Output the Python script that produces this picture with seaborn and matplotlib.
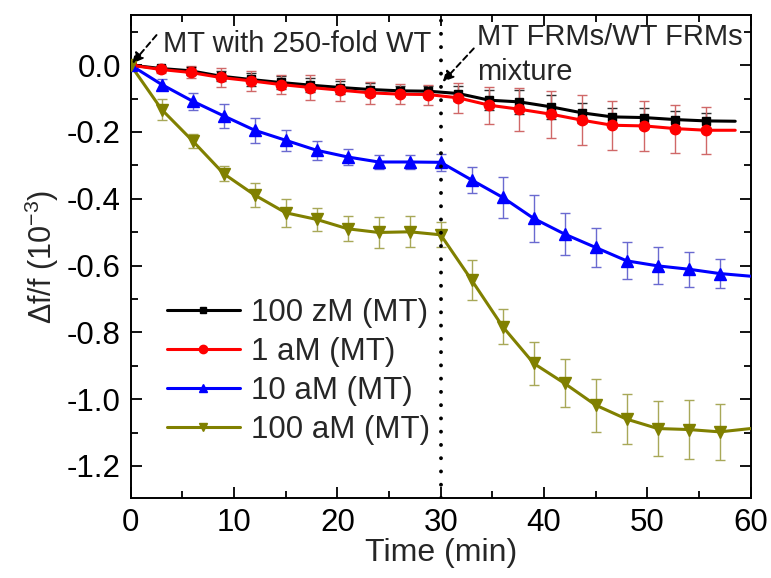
import matplotlib
matplotlib.use("Agg")
import matplotlib.pyplot as plt
import seaborn as sns
import pandas as pd
from matplotlib.lines import Line2D
from matplotlib.ticker import MultipleLocator

# ---------------- data ----------------
t_low = [0, 2.9, 5.8, 8.7, 11.6, 14.5, 17.4, 20.3, 23.2, 26.1, 28.8,
         31.7, 34.7, 37.6, 40.7, 43.7, 46.6, 49.7, 52.7, 55.7, 58.5]
zM100_vals = [0, -0.010, -0.017, -0.033, -0.043, -0.052, -0.060, -0.067, -0.073, -0.077, -0.078,
              -0.085, -0.105, -0.110, -0.125, -0.143, -0.155, -0.157, -0.163, -0.167, -0.168]
zM100_err = [0, 0.008, 0.012, 0.015, 0.018, 0.018, 0.020, 0.018, 0.018, 0.016, 0.016,
             0.022, 0.030, 0.035, 0.035, 0.030, 0.028, 0.030, 0.025, 0.025, 0]
aM1_vals = [0, -0.013, -0.022, -0.037, -0.047, -0.058, -0.067, -0.075, -0.083, -0.087, -0.088,
            -0.098, -0.120, -0.132, -0.147, -0.165, -0.180, -0.182, -0.190, -0.195, -0.195]
aM1_err = [0, 0.011, 0.018, 0.027, 0.030, 0.028, 0.036, 0.033, 0.032, 0.030, 0.030,
           0.045, 0.055, 0.065, 0.070, 0.075, 0.074, 0.074, 0.072, 0.070, 0]

t_high = [0, 3, 6, 9, 12, 15, 18, 21, 24, 27, 30,
          33, 36, 39, 42, 45, 48, 51, 54, 57, 60]
aM10_vals = [0, -0.058, -0.108, -0.152, -0.195, -0.225, -0.255, -0.275, -0.290, -0.290, -0.291,
             -0.344, -0.396, -0.459, -0.506, -0.546, -0.586, -0.601, -0.611, -0.624, -0.632]
aM10_err = [0, 0.015, 0.025, 0.037, 0.038, 0.032, 0.029, 0.025, 0.020, 0.022, 0.025,
            0.040, 0.062, 0.070, 0.063, 0.059, 0.055, 0.055, 0.053, 0.044, 0]
aM100_vals = [0, -0.133, -0.227, -0.325, -0.389, -0.442, -0.462, -0.490, -0.501, -0.499, -0.508,
              -0.644, -0.783, -0.893, -0.953, -1.018, -1.060, -1.088, -1.091, -1.098, -1.088]
aM100_err = [0, 0.032, 0.020, 0.022, 0.035, 0.042, 0.035, 0.038, 0.047, 0.047, 0.037,
             0.060, 0.052, 0.065, 0.072, 0.079, 0.075, 0.081, 0.088, 0.083, 0]

labels = ["100 zM (MT)", "1 aM (MT)", "10 aM (MT)", "100 aM (MT)"]
x_ticks = [0, 10, 20, 30, 40, 50, 60]
y_ticks = [0.0, -0.2, -0.4, -0.6, -0.8, -1.0, -1.2]

# ---------------- style ----------------
sns.set_theme(style="ticks")
plt.rcParams["font.family"] = ["Liberation Sans", "DejaVu Sans"]
plt.rcParams["mathtext.fontset"] = "custom"
plt.rcParams["mathtext.rm"] = "Liberation Sans"
plt.rcParams["mathtext.it"] = "Liberation Sans:italic"
plt.rcParams["mathtext.default"] = "regular"

fig = plt.figure(figsize=(7.71, 5.78), dpi=100)
ax = fig.add_axes([0.1695, 0.1384, 0.8042, 0.8356])

series = [
    (t_low, zM100_vals, zM100_err, labels[0], "black", "s", 6, "#303030"),
    (t_low, aM1_vals, aM1_err, labels[1], "#ff0000", "o", 7.5, "#d06868"),
    (t_high, aM10_vals, aM10_err, labels[2], "#0000ff", "^", 8, "#6a6ad0"),
    (t_high, aM100_vals, aM100_err, labels[3], "#808000", "v", 8, "#a8a858"),
]

handles = []
for t, v, e, lab, col, mk, ms, ecol in series:
    df = pd.DataFrame({"Time": t, "val": v})
    n = len(t)
    ax.errorbar(t[:n - 1], v[:n - 1], yerr=e[:n - 1], fmt="none", ecolor=ecol,
                elinewidth=1.0, capsize=3.5, capthick=1.0, zorder=2)
    sns.lineplot(data=df, x="Time", y="val", ax=ax, color=col, linewidth=2.2,
                 errorbar=None, sort=True, zorder=3, legend=False)
    ax.plot(t[:n - 1], v[:n - 1], linestyle="none", marker=mk, markersize=ms,
            color=col, markeredgecolor=col, zorder=4)
    handles.append(Line2D([], [], color=col, linewidth=2.2, marker=mk,
                          markersize=ms * 0.8, markeredgecolor=col))

# dotted line at 30 min
ax.axvline(30, color="black", linestyle=(0, (0.01, 3.4)), linewidth=2.8,
           dash_capstyle="round", zorder=5)

# annotations
FS_ANN = 21
arrow_kw = dict(arrowstyle="-|>", linestyle=(0, (3, 2)), color="black", lw=1.4,
                mutation_scale=16, shrinkA=0, shrinkB=0)
ax.annotate("", xy=(0.15, 0.005), xytext=(2.5, 0.09), arrowprops=arrow_kw, zorder=6)
ax.text(3.1, 0.062, "MT with 250-fold WT", fontsize=FS_ANN, va="center", ha="left")
ax.annotate("", xy=(30.2, -0.05), xytext=(33.2, 0.05), arrowprops=arrow_kw, zorder=6)
ax.text(33.5, 0.085, "MT FRMs/WT FRMs", fontsize=FS_ANN, va="center", ha="left")
ax.text(33.5, -0.02, "mixture", fontsize=FS_ANN, va="center", ha="left")

# axes
ax.set_xlim(0, 60)
ax.set_ylim(-1.296, 0.15)
ax.set_xticks(x_ticks)
ax.set_yticks(y_ticks)
ax.set_xticklabels([str(x) for x in x_ticks])
ax.set_yticklabels([f"{y:.1f}" for y in y_ticks])
ax.xaxis.set_minor_locator(MultipleLocator(5))
ax.yaxis.set_minor_locator(MultipleLocator(0.1))
ax.tick_params(which="both", direction="in", top=True, right=True, width=1.3,
               labelsize=22.5, colors="black", pad=7)
ax.tick_params(which="major", length=8)
ax.tick_params(which="minor", length=5)
for sp in ax.spines.values():
    sp.set_linewidth(1.4)
    sp.set_color("black")
    sp.set_visible(True)

ax.set_xlabel("Time (min)", fontsize=23, labelpad=0)
ax.set_ylabel(r"$\mathit{\Delta}$f/f (10$^{-3}$)", fontsize=22, labelpad=4)

ax.legend(handles, labels, loc="center left", bbox_to_anchor=(0.058, 0.262),
          frameon=False, fontsize=22.5, handlelength=2.35, handletextpad=0.35,
          labelspacing=0.28, borderpad=0, borderaxespad=0)

fig.savefig("out.png", dpi=100)
